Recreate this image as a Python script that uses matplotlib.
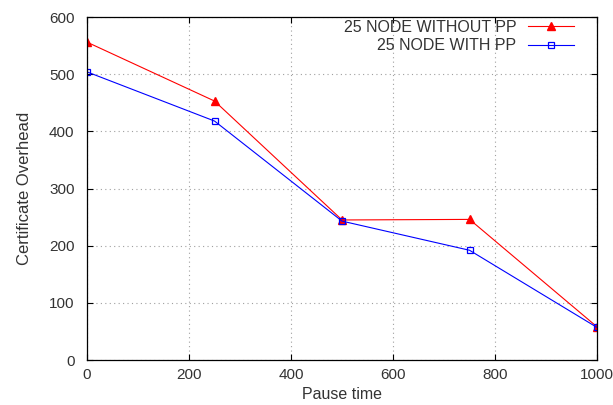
import matplotlib
matplotlib.use('Agg')
import matplotlib.pyplot as plt

pause_time = [0, 250, 500, 750, 1000]
without_pp = [556, 453, 245, 246, 58]
with_pp = [504, 418, 243, 192, 57]

plt.rcParams['font.family'] = ['Liberation Sans', 'DejaVu Sans']

fig = plt.figure(figsize=(6.13, 4.05), dpi=100)
ax = fig.add_axes([0.142, 0.111, 0.832, 0.847])

ax.plot(pause_time, without_pp, color='#ff0000', lw=0.8, marker='^', ms=5.5,
        markerfacecolor='#ff0000', markeredgecolor='#ff0000', label='25 NODE WITHOUT PP')
ax.plot(pause_time, with_pp, color='#0000ff', lw=0.8, marker='s', ms=4.5,
        markerfacecolor='none', markeredgecolor='#0000ff', markeredgewidth=0.9, label='25 NODE WITH PP')

ax.set_xlim(0, 1000)
ax.set_ylim(0, 600)
ax.set_xticks([0, 200, 400, 600, 800, 1000])
ax.set_yticks([0, 100, 200, 300, 400, 500, 600])
ax.grid(True, color='#a0a0a0', linestyle=(0, (1, 3)), linewidth=0.8)
ax.tick_params(direction='in', top=True, right=True, length=4, labelsize=11, colors='black',
               labelcolor='#333333')
ax.tick_params(axis='x', pad=6)
ax.tick_params(axis='y', pad=9)
for s in ax.spines.values():
    s.set_linewidth(0.9)

ax.set_xlabel('Pause time', fontsize=11.5, color='#333333', labelpad=3)
ax.set_ylabel('Certificate Overhead', fontsize=12, color='#333333', labelpad=12)

leg = ax.legend(loc='upper right', frameon=False, markerfirst=False, fontsize=11.5,
                handlelength=2.9, labelspacing=0.2, borderaxespad=0.0,
                handletextpad=0.7, bbox_to_anchor=(0.967, 1.01))
for t in leg.get_texts():
    t.set_color('#333333')

fig.savefig('out.png', dpi=100)
